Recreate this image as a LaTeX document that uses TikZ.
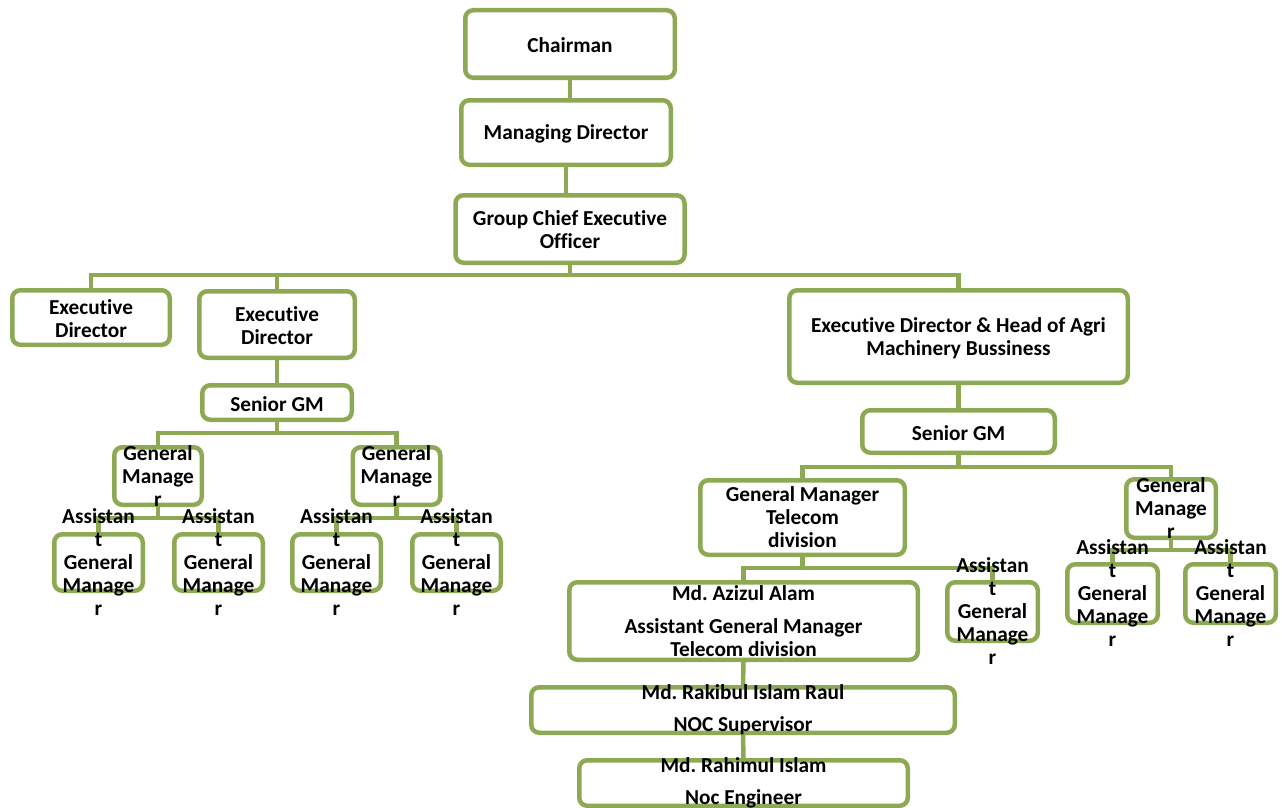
\documentclass[tikz,border=0pt]{standalone}
\usepackage{fontspec}
\setmainfont{Carlito}[Ligatures=NoCommon]
\frenchspacing
\definecolor{orggreen}{RGB}{141,169,84}
\tikzset{
  box/.style={draw=orggreen, line width=4.5pt, rounded corners=8pt, fill=white, inner sep=0pt},
  conn/.style={draw=orggreen, line width=4.5pt},
  txt/.style={align=center, inner sep=0pt, font=\fontsize{21.3}{23}\selectfont\bfseries\frenchspacing, text=black}
}
\begin{document}
\begin{tikzpicture}[x=1pt,y=-1pt]
\useasboundingbox (0,0) rectangle (1282,808);
% boxes
\node[box, minimum width=209.5pt, minimum height=67.5pt] (chair) at (570,44) {};
\node[box, minimum width=209.5pt, minimum height=64.5pt] (md) at (566,132.5) {};
\node[box, minimum width=229pt, minimum height=67.5pt] (gceo) at (570,229) {};
\node[box, minimum width=157.5pt, minimum height=54.5pt] (ed1) at (91,317.5) {};
\node[box, minimum width=155.5pt, minimum height=66.5pt] (ed2) at (277,324.5) {};
\node[box, minimum width=149.5pt, minimum height=34.5pt] (sgml) at (277,402.5) {};
\node[box, minimum width=87.5pt, minimum height=57.5pt] (gml1) at (158,476) {};
\node[box, minimum width=87.5pt, minimum height=57.5pt] (gml2) at (396.5,476) {};
\node[box, minimum width=88.5pt, minimum height=56.5pt] (agm1) at (98.5,562.5) {};
\node[box, minimum width=88.5pt, minimum height=56.5pt] (agm2) at (218.5,562.5) {};
\node[box, minimum width=88.5pt, minimum height=56.5pt] (agm3) at (336.5,562.5) {};
\node[box, minimum width=88.5pt, minimum height=56.5pt] (agm4) at (456.5,562.5) {};
\node[box, minimum width=338.5pt, minimum height=92.5pt] (edh) at (958.5,336.5) {};
\node[box, minimum width=192.5pt, minimum height=42.5pt] (sgmr) at (958.5,431.5) {};
\node[box, minimum width=204.5pt, minimum height=74.5pt] (gmt) at (802.5,517.5) {};
\node[box, minimum width=89.5pt, minimum height=58.5pt] (gmr) at (1171,508.5) {};
\node[box, minimum width=90.5pt, minimum height=58.5pt] (agmr1) at (1112.5,593.5) {};
\node[box, minimum width=90.5pt, minimum height=58.5pt] (agmr2) at (1230.5,593.5) {};
\node[box, minimum width=348.5pt, minimum height=77.5pt] (aziz) at (743.5,621) {};
\node[box, minimum width=90.5pt, minimum height=58.5pt] (agmt) at (992.5,611.5) {};
\node[box, minimum width=423.5pt, minimum height=45.5pt] (rak) at (743,710) {};
\node[box, minimum width=328.5pt, minimum height=45.5pt] (rah) at (743.5,783) {};
% bus coordinates
\coordinate (busA) at (570,275);
\coordinate (busB) at (277,433);
\coordinate (busC) at (158,518);
\coordinate (busD) at (396.5,518);
\coordinate (busE) at (958.5,467);
\coordinate (busF) at (802.5,568);
\coordinate (busG) at (1171,550);
% connectors
\draw[conn] (chair.south) -- (md.north -| chair.south);
\draw[conn] (md.south) -- (gceo.north -| md.south);
\draw[conn] (gceo.south) -- (busA);
\draw[conn] (busA) -| (ed1.north);
\draw[conn] (busA) -| (ed2.north);
\draw[conn] (busA) -| (edh.north);
\draw[conn] (ed2.south) -- (sgml.north);
\draw[conn] (sgml.south) -- (busB);
\draw[conn] (busB) -| (gml1.north);
\draw[conn] (busB) -| (gml2.north);
\draw[conn] (gml1.south) -- (busC);
\draw[conn] (busC) -| (agm1.north);
\draw[conn] (busC) -| (agm2.north);
\draw[conn] (gml2.south) -- (busD);
\draw[conn] (busD) -| (agm3.north);
\draw[conn] (busD) -| (agm4.north);
\draw[conn] (edh.south) -- (sgmr.north);
\draw[conn] (sgmr.south) -- (busE);
\draw[conn] (busE) -| (gmt.north);
\draw[conn] (busE) -| (gmr.north);
\draw[conn] (gmt.south) -- (busF);
\draw[conn] (busF) -| (aziz.north);
\draw[conn] (busF) -| (agmt.north);
\draw[conn] (gmr.south) -- (busG);
\draw[conn] (busG) -| (agmr1.north);
\draw[conn] (busG) -| (agmr2.north);
\draw[conn] (aziz.south) -- (rak.north);
\draw[conn] (rak.south) -- (rah.north);
% texts
\node[txt] at (570,45) {Chairman};
\node[txt] at (566,134) {Managing Director};
\node[txt] at (570,230) {Group Chief Executive\\Officer};
\node[txt] at (91,319) {Executive\\Director};
\node[txt] at (277,325.5) {Executive\\Director};
\node[txt] at (277,404) {Senior GM};
\node[txt] at (gml1) {General\\Manage\\r};
\node[txt] at (gml2) {General\\Manage\\r};
\node[txt] at (agm1) {Assistan\\t\\General\\Manage\\r};
\node[txt] at (agm2) {Assistan\\t\\General\\Manage\\r};
\node[txt] at (agm3) {Assistan\\t\\General\\Manage\\r};
\node[txt] at (agm4) {Assistan\\t\\General\\Manage\\r};
\node[txt] at (958.5,338) {Executive Director \& Head of Agri\\Machinery Bussiness};
\node[txt] at (958.5,433) {Senior GM};
\node[txt] at (gmt) {General Manager\\Telecom\\division};
\node[txt] at (gmr) {General\\Manage\\r};
\node[txt] at (agmr1) {Assistan\\t\\General\\Manage\\r};
\node[txt] at (agmr2) {Assistan\\t\\General\\Manage\\r};
\node[txt] at (agmt) {Assistan\\t\\General\\Manage\\r};
\node[txt] at (aziz) {Md. Azizul Alam\\[10pt]Assistant General Manager\\Telecom division};
\node[txt] at (rak) {Md. Rakibul Islam Raul\\[9pt]NOC Supervisor};
\node[txt] at (rah) {Md. Rahimul Islam\\[9pt]Noc Engineer};
\end{tikzpicture}
\end{document}
